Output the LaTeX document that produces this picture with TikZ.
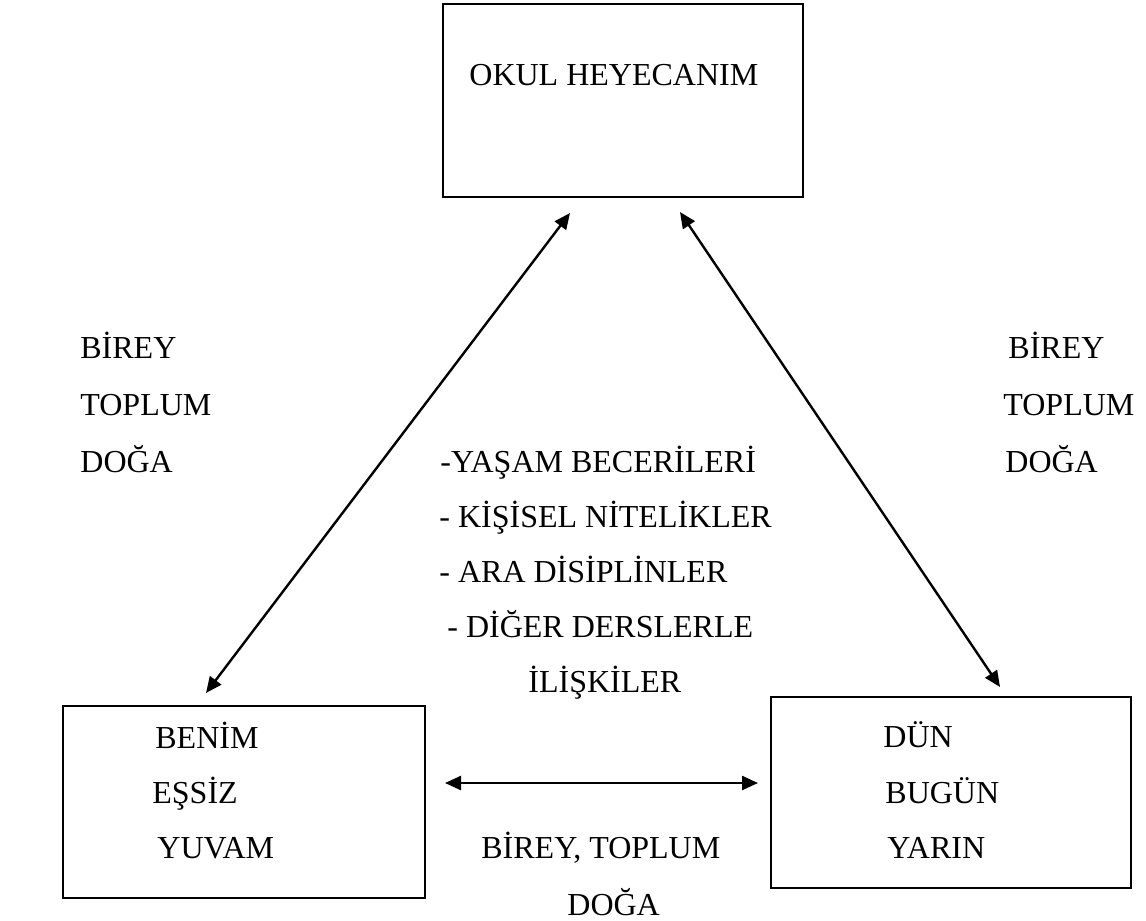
\documentclass[tikz,border=0pt]{standalone}
\usepackage{fontspec}
\setmainfont{Liberation Serif}
\usetikzlibrary{arrows.meta, positioning}

\begin{document}
\begin{tikzpicture}[x=0.5pt, y=-0.5pt, font=\fontsize{16}{19}\selectfont,
   box/.style={draw, line width=1pt, inner sep=0pt},
   lbl/.style={anchor=base west, inner sep=0pt},
   link/.style={{Triangle[length=8pt,width=7pt]}-{Triangle[length=8pt,width=7pt]}, line width=1.2pt}]
   \useasboundingbox (0,0) rectangle (1146,921);

   \node (okul)[box, minimum width=180pt, minimum height=96.5pt] at (623,100.5) {};
   \node (yuva)[box, minimum width=181pt, minimum height=96pt] at (244,802) {};
   \node (zaman)[box, minimum width=180pt, minimum height=95.5pt] at (951,792.5) {};

   \node (okulT)[lbl] at (469,85) {OKUL HEYECANIM};
   \node (benim)[lbl] at (155,748) {BENİM};
   \node (essiz)[lbl] at (152,803) {EŞSİZ};
   \node (yuvam)[lbl] at (157,858) {YUVAM};
   \node (dun)[lbl] at (883,747) {DÜN};
   \node (bugun)[lbl] at (885,803) {BUGÜN};
   \node (yarin)[lbl] at (887,858) {YARIN};

   \node (bireyL)[lbl] at (80,358) {BİREY};
   \node (toplumL)[lbl] at (80,415) {TOPLUM};
   \node (dogaL)[lbl] at (80,472) {DOĞA};
   \node (bireyR)[lbl] at (1008,358) {BİREY};
   \node (toplumR)[lbl] at (1003,415) {TOPLUM};
   \node (dogaR)[lbl] at (1005,472) {DOĞA};

   \node (yasam)[lbl] at (440,472) {-YAŞAM BECERİLERİ};
   \node (kisisel)[lbl] at (439,527) {- KİŞİSEL NİTELİKLER};
   \node (ara)[lbl] at (439,582) {- ARA DİSİPLİNLER};
   \node (diger)[lbl] at (447,637) {- DİĞER DERSLERLE};
   \node (iliski)[lbl] at (528,692) {İLİŞKİLER};

   \node (bireyB)[lbl] at (481,858) {BİREY, TOPLUM};
   \node (dogaB)[lbl] at (567,915) {DOĞA};

   \coordinate (okulSW) at (570,213);
   \coordinate (okulSE) at (680,212);
   \coordinate (yuvaN) at (206,693);
   \coordinate (zamanN) at (1000,687);
   \coordinate (yuvaE) at (445,783);
   \coordinate (zamanW) at (758,783);

   \draw[link] (yuvaN) -- (okulSW);
   \draw[link] (zamanN) -- (okulSE);
   \draw[link] (yuvaE) -- (zamanW);
\end{tikzpicture}
\end{document}
